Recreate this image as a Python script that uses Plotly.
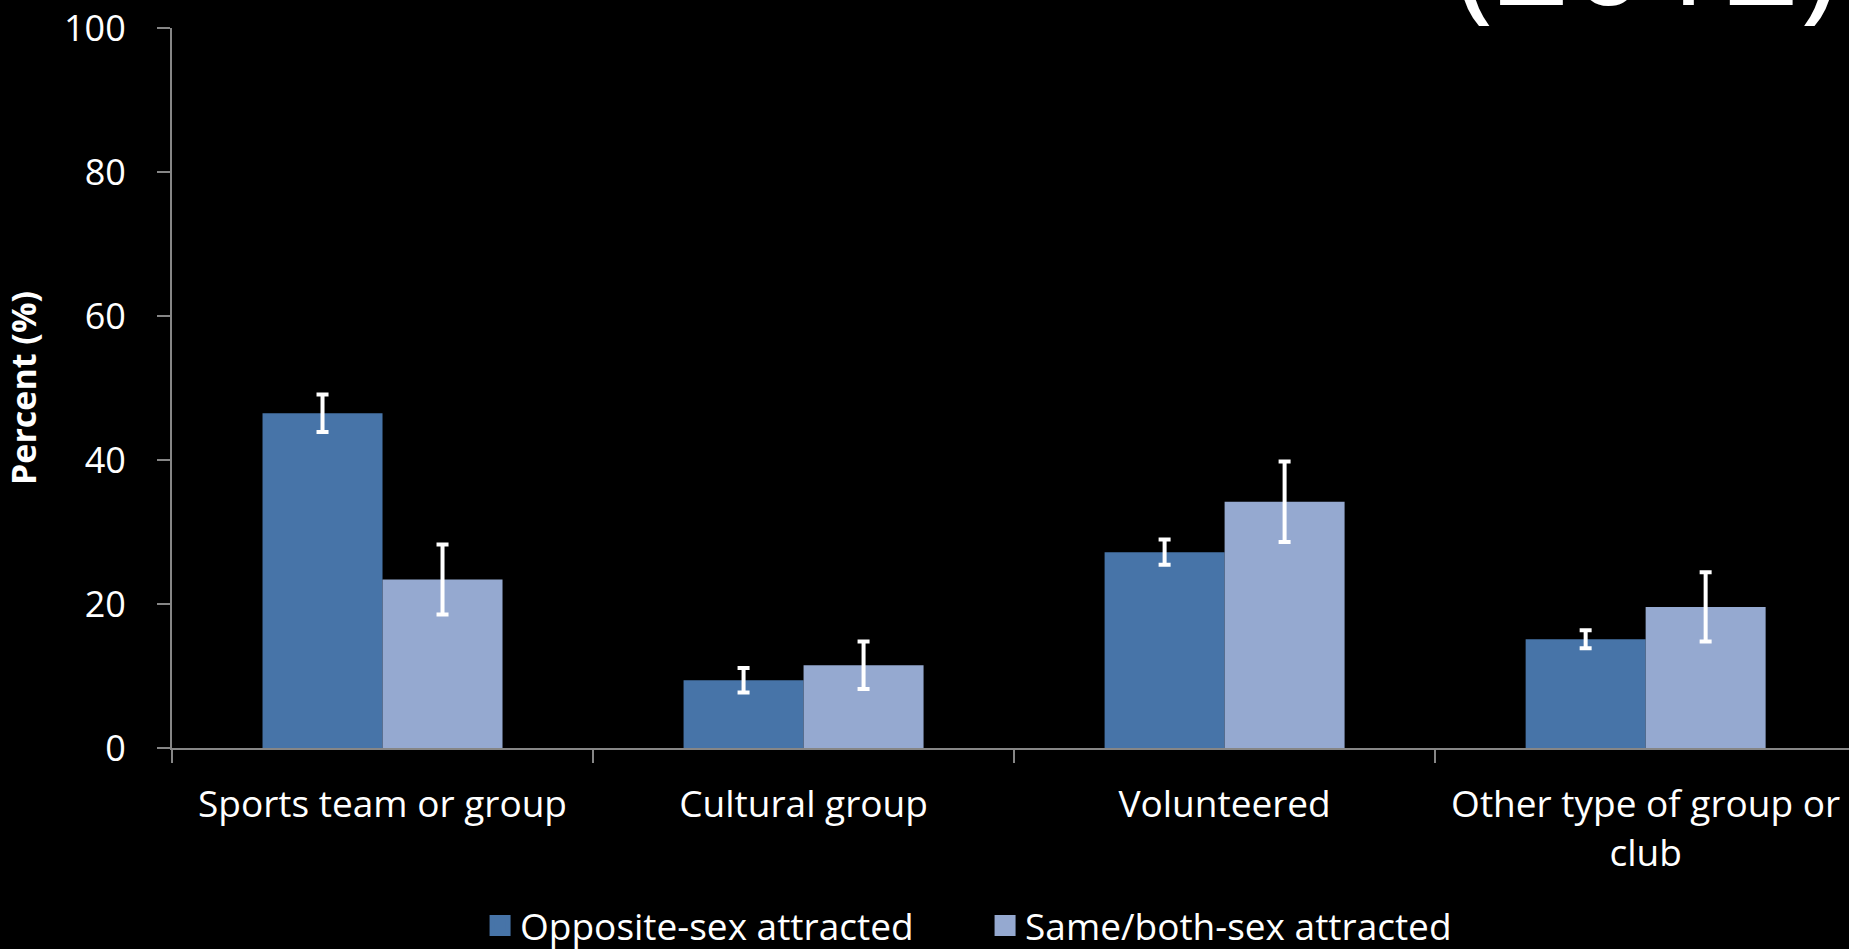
import plotly.graph_objects as go

categories = ["Sports team or group", "Cultural group", "Volunteered", "Other type of group or<br>club"]
series_names = ["Opposite-sex attracted", "Same/both-sex attracted"]
opposite_vals = [46.5, 9.4, 27.2, 15.1]
opposite_err = [2.6, 1.7, 1.75, 1.25]
same_vals = [23.4, 11.5, 34.2, 19.6]
same_err = [4.85, 3.3, 5.6, 4.8]
y_ticks = [0, 20, 40, 60, 80, 100]

colors = ["#4774A8", "#95A9D0"]
FONT = "Open Sans"

fig = go.Figure()
for name, vals, errs, col in [
    (series_names[0], opposite_vals, opposite_err, colors[0]),
    (series_names[1], same_vals, same_err, colors[1]),
]:
    fig.add_trace(go.Bar(
        x=categories, y=vals, name=name, showlegend=False,
        marker=dict(color=col, line=dict(width=0)),
        error_y=dict(type="data", array=errs, visible=True, color="white", thickness=4, width=6),
    ))
    fig.add_trace(go.Scatter(
        x=[None], y=[None], mode="markers", name=name,
        marker=dict(symbol="square", size=16, color=col, line=dict(color=col, width=5)),
    ))

fig.update_layout(
    width=1849, height=949,
    paper_bgcolor="black", plot_bgcolor="black",
    font=dict(family=FONT, color="white", size=37),
    margin=dict(l=172, r=0, t=27.5, b=201, autoexpand=False),
    barmode="group", bargap=0.43, bargroupgap=0,
    showlegend=True,
    legend=dict(
        orientation="h", x=0.1837, xanchor="left", y=-0.247, yanchor="middle",
        font=dict(size=37, color="white"), itemsizing="trace",
        entrywidth=460, entrywidthmode="pixels",
        bgcolor="rgba(0,0,0,0)",
    ),
    xaxis=dict(
        range=[-0.5, 3.483], showline=True, linecolor="#868686", linewidth=2,
        ticks="outside", tickson="boundaries", ticklen=13, tickcolor="#868686", tickwidth=2,
        showgrid=False, tickfont=dict(size=37, color="white"), ticklabelstandoff=23,
        automargin=False,
    ),
    yaxis=dict(
        range=[0, 100], tickvals=y_ticks, showline=True, linecolor="#868686", linewidth=2,
        ticks="outside", ticklen=13, tickcolor="#868686", tickwidth=2,
        showgrid=False, zeroline=False, tickfont=dict(size=36, color="white"),
        ticklabelstandoff=24, automargin=False,
        title=dict(text="<b>Percent (%)</b>", font=dict(size=34, color="white"), standoff=22),
    ),
    annotations=[dict(
        text="(2012)", xref="paper", yref="paper", x=0.996, y=0.975,
        xanchor="right", yanchor="bottom", showarrow=False,
        font=dict(size=134, color="white", family=FONT, weight=500),
    )],
)

fig.write_html("out.html", config={"displayModeBar": False})
with open("out.html", "r", encoding="utf-8") as f:
    html = f.read()
html = html.replace("<head>", "<head><style>html,body{margin:0;padding:0;background:black;overflow:hidden;}</style>", 1)
with open("out.html", "w", encoding="utf-8") as f:
    f.write(html)
